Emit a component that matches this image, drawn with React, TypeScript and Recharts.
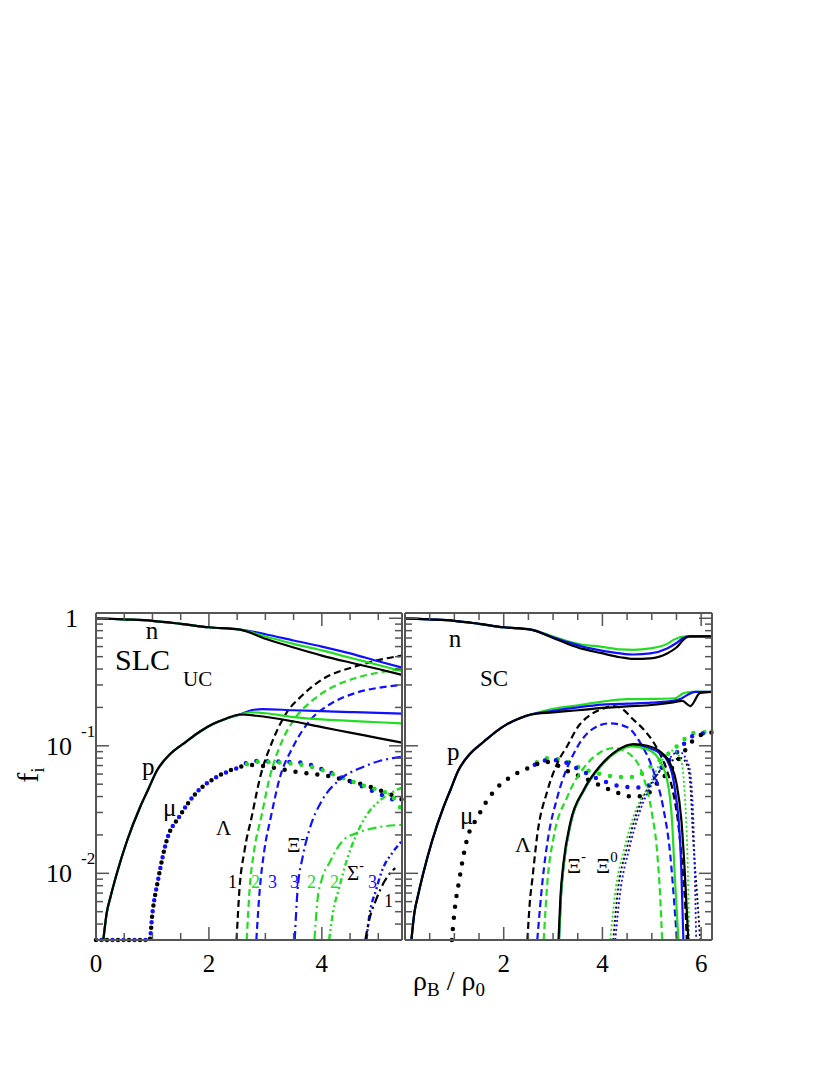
import { LineChart, Line, XAxis, YAxis } from 'recharts'

// --- data: [rho_B/rho_0, f_i] ---
const nCommon = [[0, 1.0], [0.5, 0.98], [1.0, 0.955], [1.5, 0.905], [2.0, 0.85], [2.55, 0.815]]
const nUcBlack = [[3.0, 0.69], [3.5, 0.59], [4.0, 0.51], [4.5, 0.45], [5.0, 0.4], [5.42, 0.36]]
const nUcGreen = [[3.0, 0.72], [3.5, 0.63], [4.0, 0.56], [4.5, 0.49], [5.0, 0.43], [5.42, 0.385]]
const nUcBlue = [[3.0, 0.75], [3.5, 0.67], [4.0, 0.6], [4.5, 0.53], [5.0, 0.46], [5.42, 0.41]]

const pCommon = [
  [0.13, 0.003], [0.19, 0.0049], [0.26, 0.0066], [0.37, 0.01], [0.55, 0.018], [0.78, 0.033],
  [0.92, 0.045], [1.08, 0.064], [1.3, 0.085], [1.6, 0.108], [1.85, 0.13], [2.07, 0.148],
  [2.3, 0.163], [2.55, 0.176],
]
const pUcBlack = [[2.84, 0.172], [3.5, 0.155], [4.0, 0.14], [4.5, 0.127], [5.0, 0.115], [5.42, 0.106]]
const pUcGreen = [[2.75, 0.183], [3.0, 0.18], [3.5, 0.168], [4.0, 0.161], [4.5, 0.157], [5.0, 0.153], [5.42, 0.15]]
const pUcBlue = [[2.75, 0.19], [2.95, 0.194], [3.5, 0.19], [4.0, 0.187], [4.5, 0.184], [5.0, 0.181], [5.42, 0.179]]

// muons sit on the floor of the plot below threshold (drawn only in the UC panel)
const muFloor = [[0, 0.003]]
const muRise = [
  [0.95, 0.003], [1.0, 0.0049], [1.1, 0.0089], [1.25, 0.018], [1.48, 0.028],
  [1.78, 0.043], [2.14, 0.057], [2.54, 0.068],
]
const muUcBlack = [[2.69, 0.071], [3.1, 0.068], [3.48, 0.063], [4.1, 0.058], [4.49, 0.053], [4.9, 0.047], [5.25, 0.041], [5.42, 0.038]]
const muUcBlue = [[2.76, 0.076], [3.29, 0.075], [3.6, 0.074], [4.1, 0.063], [4.49, 0.053], [5.07, 0.041], [5.25, 0.038], [5.42, 0.036]]
const muUcGreen = [[2.54, 0.068], [2.9, 0.075], [3.4, 0.073], [3.9, 0.067], [4.27, 0.058], [4.79, 0.048], [5.0, 0.045], [5.25, 0.04], [5.42, 0.031]]

const lamUcBlack = [[2.49, 0.003], [2.54, 0.0074], [2.63, 0.015], [2.76, 0.028], [2.9, 0.055], [3.13, 0.11], [3.37, 0.18], [3.66, 0.25], [4.0, 0.33], [4.6, 0.42], [5.0, 0.47], [5.42, 0.51]]
const lamUcGreen = [[2.67, 0.003], [2.72, 0.0074], [2.8, 0.015], [2.93, 0.028], [3.07, 0.055], [3.3, 0.11], [3.55, 0.17], [3.85, 0.23], [4.2, 0.29], [4.6, 0.34], [5.0, 0.375], [5.42, 0.4]]
const lamUcBlue = [[2.84, 0.003], [2.9, 0.0074], [2.98, 0.015], [3.1, 0.028], [3.25, 0.055], [3.5, 0.1], [3.8, 0.16], [4.13, 0.21], [4.6, 0.26], [5.0, 0.285], [5.42, 0.3]]

const xiUcBlue = [[3.52, 0.003], [3.57, 0.0074], [3.66, 0.0134], [3.78, 0.022], [4.0, 0.037], [4.31, 0.054], [4.72, 0.068], [5.02, 0.076], [5.42, 0.082]]
const xiUcGreen = [[3.87, 0.003], [3.92, 0.006], [4.0, 0.009], [4.13, 0.012], [4.37, 0.018], [4.66, 0.021], [5.0, 0.023], [5.42, 0.024]]
const sigUcGreen = [[4.13, 0.003], [4.2, 0.005], [4.3, 0.0075], [4.45, 0.013], [4.61, 0.02], [4.78, 0.028], [5.02, 0.037], [5.28, 0.044], [5.42, 0.047]]
const sigUcBlue = [[4.79, 0.003], [4.84, 0.0046], [4.96, 0.0074], [5.07, 0.0106], [5.25, 0.0145], [5.42, 0.018]]
const sigUcBlack = [[4.77, 0.003], [4.85, 0.0045], [4.96, 0.0062], [5.1, 0.0085], [5.25, 0.0105], [5.3, 0.011]]

const nScBlack = [[3.0, 0.7], [3.3, 0.63], [3.6, 0.575], [3.96, 0.535], [4.36, 0.495], [4.63, 0.48], [4.97, 0.485], [5.31, 0.53], [5.5, 0.59], [5.68, 0.7], [5.78, 0.72], [6.22, 0.72]]
const nScBlue = [[3.0, 0.71], [3.3, 0.65], [3.6, 0.6], [3.96, 0.56], [4.36, 0.53], [4.63, 0.52], [4.97, 0.53], [5.31, 0.58], [5.5, 0.64], [5.64, 0.7], [5.74, 0.72], [6.22, 0.72]]
const nScGreen = [[3.0, 0.72], [3.3, 0.66], [3.6, 0.62], [3.96, 0.6], [4.36, 0.57], [4.63, 0.565], [4.97, 0.58], [5.31, 0.63], [5.45, 0.68], [5.6, 0.715], [5.72, 0.72], [6.22, 0.72]]

const pScBlack = [[3.0, 0.183], [3.5, 0.19], [4.0, 0.198], [4.5, 0.204], [5.0, 0.209], [5.4, 0.218], [5.62, 0.225], [5.78, 0.205], [5.98, 0.26], [6.22, 0.265]]
const pScBlue = [[3.0, 0.188], [3.5, 0.2], [4.0, 0.21], [4.5, 0.214], [5.0, 0.218], [5.45, 0.226], [5.6, 0.235], [5.72, 0.25], [5.88, 0.265], [6.22, 0.265]]
const pScGreen = [[3.0, 0.195], [3.5, 0.208], [4.0, 0.222], [4.5, 0.232], [5.0, 0.233], [5.47, 0.236], [5.64, 0.258], [5.82, 0.265], [6.22, 0.265]]

const muScBlack = [[2.85, 0.075], [3.09, 0.07], [3.31, 0.063], [3.72, 0.054], [4.16, 0.045], [4.63, 0.04], [4.87, 0.041], [5.11, 0.051], [5.37, 0.064], [5.58, 0.082], [5.88, 0.114], [6.12, 0.126], [6.22, 0.127]]
const muScBlue = [[2.54, 0.068], [2.9, 0.077], [3.09, 0.077], [3.5, 0.066], [3.96, 0.054], [4.4, 0.048], [4.87, 0.047], [5.11, 0.062], [5.5, 0.088], [5.84, 0.12], [6.22, 0.127]]
const muScGreen = [[2.54, 0.068], [2.89, 0.08], [3.29, 0.075], [3.52, 0.068], [3.96, 0.06], [4.42, 0.057], [4.67, 0.057], [4.91, 0.066], [5.37, 0.089], [5.58, 0.105], [5.82, 0.126], [6.22, 0.128]]

const lamScBlack = [[2.48, 0.003], [2.53, 0.006], [2.58, 0.009], [2.68, 0.02], [2.89, 0.045], [3.1, 0.075], [3.29, 0.1], [3.5, 0.14], [3.76, 0.175], [4.0, 0.195], [4.22, 0.205], [4.4, 0.195], [4.63, 0.16], [4.83, 0.135], [5.11, 0.095], [5.3, 0.065], [5.45, 0.04], [5.55, 0.022], [5.63, 0.01], [5.68, 0.0055], [5.71, 0.003]]
const lamScBlue = [[2.68, 0.003], [2.79, 0.009], [2.89, 0.018], [3.09, 0.04], [3.42, 0.087], [3.82, 0.137], [4.16, 0.15], [4.5, 0.14], [4.77, 0.105], [5.03, 0.064], [5.23, 0.033], [5.37, 0.0145], [5.47, 0.0049], [5.51, 0.003]]
const lamScGreen = [[2.81, 0.003], [2.89, 0.009], [3.01, 0.019], [3.29, 0.04], [3.62, 0.067], [3.96, 0.089], [4.22, 0.096], [4.57, 0.085], [4.83, 0.057], [5.0, 0.03], [5.11, 0.0145], [5.17, 0.0066], [5.21, 0.003]]

const xiScBlack = [[3.11, 0.003], [3.15, 0.0066], [3.21, 0.012], [3.35, 0.025], [3.62, 0.045], [3.96, 0.07], [4.3, 0.092], [4.63, 0.103], [4.91, 0.1], [5.17, 0.09], [5.37, 0.073], [5.5, 0.051], [5.6, 0.026], [5.67, 0.01], [5.74, 0.003]]
const xiScBlue = [[3.12, 0.003], [3.16, 0.0066], [3.22, 0.012], [3.36, 0.025], [3.63, 0.045], [3.97, 0.07], [4.3, 0.091], [4.62, 0.101], [4.9, 0.097], [5.15, 0.088], [5.31, 0.077], [5.47, 0.045], [5.58, 0.016], [5.64, 0.003]]
const xiScGreen = [[3.12, 0.003], [3.16, 0.0066], [3.22, 0.012], [3.36, 0.025], [3.63, 0.045], [3.97, 0.069], [4.3, 0.09], [4.6, 0.099], [4.9, 0.094], [5.11, 0.082], [5.31, 0.054], [5.41, 0.026], [5.47, 0.0089], [5.54, 0.003]]

const xi0ScBlack = [[4.22, 0.003], [4.3, 0.0066], [4.5, 0.016], [4.7, 0.03], [5.03, 0.054], [5.37, 0.075], [5.6, 0.08], [5.72, 0.07], [5.78, 0.05], [5.84, 0.018], [5.92, 0.0066], [5.98, 0.003]]
const xi0ScBlue = [[4.26, 0.003], [4.35, 0.0066], [4.55, 0.016], [4.75, 0.03], [5.05, 0.054], [5.3, 0.075], [5.55, 0.09], [5.75, 0.07], [5.82, 0.04], [5.86, 0.015], [5.9, 0.003]]
const xi0ScGreen = [[4.16, 0.003], [4.25, 0.0066], [4.45, 0.016], [4.63, 0.028], [4.97, 0.051], [5.17, 0.073], [5.44, 0.092], [5.6, 0.075], [5.67, 0.04], [5.72, 0.015], [5.76, 0.003]]

const xTicksUc = [0, 0.5, 1, 1.5, 2, 2.5, 3, 3.5, 4, 4.5, 5]
const xTicksSc = [0, 0.5, 1, 1.5, 2, 2.5, 3, 3.5, 4, 4.5, 5, 5.5, 6]
const xLabelsUc = [0, 2, 4]
const xLabelsSc = [2, 4, 6]
const yTicks = [
  0.003, 0.004, 0.005, 0.006, 0.007, 0.008, 0.009, 0.01,
  0.02, 0.03, 0.04, 0.05, 0.06, 0.07, 0.08, 0.09, 0.1,
  0.2, 0.3, 0.4, 0.5, 0.6, 0.7, 0.8, 0.9, 1,
]
const yMajor = [1, 0.1, 0.01]
const yMajorExp = ['', '-1', '-2']

const BLACK = '#000000'
const GREEN = '#22dd22'
const BLUE = '#1010ff'
const FRAME = '#555555'
const FONT = '"Liberation Serif", "Times New Roman", serif'

const toPts = (pairs: number[][]) => pairs.map(([x, y]) => ({ x, y }))

type Style = 'solid' | 'dash' | 'mu' | 'dot' | 'dashdot' | 'dashdotdot'
interface Series { data: number[][]; color: string; style: Style; offset?: number }

const styleProps: Record<Style, any> = {
  solid: { strokeWidth: 2.2 },
  dash: { strokeWidth: 2.2, strokeDasharray: '7 4' },
  mu: { strokeWidth: 4.5, strokeDasharray: '0 11', strokeLinecap: 'round' },
  dot: { strokeWidth: 1.8, strokeDasharray: '2 2.5' },
  dashdot: { strokeWidth: 2.2, strokeDasharray: '9 4 2 4' },
  dashdotdot: { strokeWidth: 2.4, strokeDasharray: '6 3 2 3 2 3' },
}

const ucSeries: Series[] = [
  { data: [...muFloor, ...muRise, ...muUcBlack], color: BLACK, style: 'mu', offset: 0 },
  { data: [...muFloor, ...muRise, ...muUcBlue], color: BLUE, style: 'mu', offset: 5.5 },
  { data: muUcGreen, color: GREEN, style: 'mu', offset: 3 },
  { data: lamUcBlack, color: BLACK, style: 'dash' },
  { data: lamUcGreen, color: GREEN, style: 'dash' },
  { data: lamUcBlue, color: BLUE, style: 'dash' },
  { data: xiUcBlue, color: BLUE, style: 'dashdot' },
  { data: xiUcGreen, color: GREEN, style: 'dashdot' },
  { data: sigUcGreen, color: GREEN, style: 'dashdotdot' },
  { data: sigUcBlue, color: BLUE, style: 'dashdotdot' },
  { data: sigUcBlack, color: BLACK, style: 'dashdot' },
  { data: [...nCommon, ...nUcBlue], color: BLUE, style: 'solid' },
  { data: [...nCommon, ...nUcGreen], color: GREEN, style: 'solid' },
  { data: [...nCommon, ...nUcBlack], color: BLACK, style: 'solid' },
  { data: [...pCommon, ...pUcBlue], color: BLUE, style: 'solid' },
  { data: [...pCommon, ...pUcGreen], color: GREEN, style: 'solid' },
  { data: [...pCommon, ...pUcBlack], color: BLACK, style: 'solid' },
]

const scSeries: Series[] = [
  { data: muScGreen, color: GREEN, style: 'mu', offset: 3 },
  { data: muScBlue, color: BLUE, style: 'mu', offset: 6 },
  { data: [...muRise, ...muScBlack], color: BLACK, style: 'mu', offset: 0 },
  { data: lamScBlack, color: BLACK, style: 'dash' },
  { data: lamScBlue, color: BLUE, style: 'dash' },
  { data: lamScGreen, color: GREEN, style: 'dash' },
  { data: xi0ScBlack, color: BLACK, style: 'dot' },
  { data: xi0ScBlue, color: BLUE, style: 'dot' },
  { data: xi0ScGreen, color: GREEN, style: 'dot' },
  { data: xiScBlue, color: BLUE, style: 'solid' },
  { data: xiScGreen, color: GREEN, style: 'solid' },
  { data: xiScBlack, color: BLACK, style: 'solid' },
  { data: [...nCommon, ...nScGreen], color: GREEN, style: 'solid' },
  { data: [...nCommon, ...nScBlue], color: BLUE, style: 'solid' },
  { data: [...nCommon, ...nScBlack], color: BLACK, style: 'solid' },
  { data: [...pCommon, ...pScGreen], color: GREEN, style: 'solid' },
  { data: [...pCommon, ...pScBlue], color: BLUE, style: 'solid' },
  { data: [...pCommon, ...pScBlack], color: BLACK, style: 'solid' },
]

const isMajorX = (v: number) => Math.abs(v - Math.round(v / 2) * 2) < 1e-9
const majorIndex = (v: number) => yMajor.findIndex((m) => Math.abs(m - v) < 1e-9)

function makeXTick(side: 'bottom' | 'top', labels: number[]) {
  return (props: any) => {
    const { x, y, payload } = props
    const major = isMajorX(payload.value)
    const len = major ? 13 : 7
    const dir = side === 'bottom' ? -1 : 1
    return (
      <g>
        <line x1={x} x2={x} y1={y} y2={y + dir * len} stroke={FRAME} strokeWidth={1.5} />
        {side === 'bottom' && labels.includes(payload.value) && (
          <text x={x} y={y + 32} textAnchor="middle" fontSize={25} fontFamily={FONT} fill="#000">
            {payload.value}
          </text>
        )}
      </g>
    )
  }
}

function makeYTick(side: 'left' | 'right', showLabels: boolean) {
  return (props: any) => {
    const { x, y, payload } = props
    const mi = majorIndex(payload.value)
    const len = mi >= 0 ? 13 : 7
    const dir = side === 'left' ? 1 : -1
    return (
      <g>
        <line x1={x} x2={x + dir * len} y1={y} y2={y} stroke={FRAME} strokeWidth={1.5} />
        {showLabels && side === 'left' && mi === 0 && (
          <text x={x - 18} y={y + 9} textAnchor="end" fontSize={26} fontFamily={FONT} fill="#000">1</text>
        )}
        {showLabels && side === 'left' && mi > 0 && (
          <g>
            <text x={x - 24} y={y + 9} textAnchor="end" fontSize={26} fontFamily={FONT} fill="#000">10</text>
            <text x={x - 15} y={y - 9} textAnchor="start" fontSize={17} fontFamily={FONT} fill="#000">
              {yMajorExp[mi]}
            </text>
          </g>
        )}
      </g>
    )
  }
}

interface PanelProps {
  series: Series[]
  xMax: number
  xTicks: number[]
  xLabels: number[]
  width: number
  margin: { top: number; left: number; right: number; bottom: number }
  yLabels: boolean
}

function Panel({ series, xMax, xTicks, xLabels, width, margin, yLabels }: PanelProps) {
  const axisLine = { stroke: FRAME, strokeWidth: 2 }
  return (
    <LineChart width={width} height={1075} margin={margin}>
      <XAxis xAxisId="b" type="number" dataKey="x" domain={[0, xMax]} ticks={xTicks}
        interval={0} height={1} tickSize={0} tickMargin={0} tickLine={false} axisLine={axisLine}
        tick={makeXTick('bottom', xLabels)} />
      <XAxis xAxisId="t" orientation="top" type="number" dataKey="x" domain={[0, xMax]}
        ticks={xTicks} interval={0} height={1} tickSize={0} tickMargin={0} tickLine={false} axisLine={axisLine}
        tick={makeXTick('top', [])} />
      <YAxis yAxisId="l" type="number" scale="log" domain={[0.003, 1.1]} ticks={yTicks}
        interval={0} width={1} tickSize={0} tickMargin={0} tickLine={false} axisLine={axisLine}
        tick={makeYTick('left', yLabels)} />
      <YAxis yAxisId="r" orientation="right" type="number" scale="log" domain={[0.003, 1.1]}
        ticks={yTicks} interval={0} width={1} tickSize={0} tickMargin={0} tickLine={false} axisLine={axisLine}
        tick={makeYTick('right', false)} />
      {series.map((s, i) => (
        <Line
          key={i}
          xAxisId="b"
          yAxisId="l"
          data={toPts(s.data)}
          dataKey="y"
          type="monotone"
          stroke={s.color}
          {...styleProps[s.style]}
          strokeDashoffset={s.offset ?? 0}
          dot={false}
          activeDot={false}
          isAnimationActive={false}
        />
      ))}
      <Line xAxisId="t" yAxisId="r" data={toPts(nCommon)} dataKey="y" stroke="none" dot={false}
        activeDot={false} isAnimationActive={false} />
    </LineChart>
  )
}

const T = (props: any) => <text fontFamily={FONT} fill="#000" {...props} />

function Annotations() {
  return (
    <svg width={830} height={1075} style={{ position: 'absolute', left: 0, top: 0, pointerEvents: 'none' }}>
      {/* left panel */}
      <T x={152} y={639} fontSize={25} textAnchor="middle">n</T>
      <T x={115} y={670} fontSize={30}>SLC</T>
      <T x={183} y={686} fontSize={21}>UC</T>
      <T x={142} y={775} fontSize={25}>p</T>
      <T x={163} y={816} fontSize={25}>μ</T>
      <T x={216} y={835} fontSize={21}>Λ</T>
      <T x={287} y={852} fontSize={21}>Ξ<tspan dy={-9} fontSize={14}>-</tspan></T>
      <T x={347} y={880} fontSize={21}>Σ<tspan dy={-10} fontSize={14}>-</tspan></T>
      <T x={228} y={888} fontSize={18}>1</T>
      <T x={251} y={888} fontSize={18} fill={GREEN}>2</T>
      <T x={268} y={888} fontSize={18} fill={BLUE}>3</T>
      <T x={290} y={888} fontSize={18} fill={BLUE}>3</T>
      <T x={307} y={888} fontSize={18} fill={GREEN}>2</T>
      <T x={330} y={888} fontSize={18} fill={GREEN}>2</T>
      <T x={368} y={888} fontSize={18} fill={BLUE}>3</T>
      <T x={384} y={907} fontSize={18}>1</T>
      {/* right panel */}
      <T x={455} y={647} fontSize={25} textAnchor="middle">n</T>
      <T x={480} y={686} fontSize={23}>SC</T>
      <T x={447} y={760} fontSize={25}>p</T>
      <T x={460} y={824} fontSize={25}>μ</T>
      <T x={515} y={852} fontSize={22}>Λ</T>
      <T x={567} y={873} fontSize={22}>Ξ<tspan dy={-12} fontSize={14}>-</tspan></T>
      <T x={596} y={873} fontSize={22}>Ξ<tspan dy={-11} fontSize={15}>0</tspan></T>
      {/* axis titles */}
      <T x={38} y={775} fontSize={30} textAnchor="middle" transform="rotate(-90 38 775)">
        f<tspan dy={6} fontSize={19}>i</tspan>
      </T>
      <T x={413} y={990} fontSize={28}>
        ρ<tspan dy={6} fontSize={19}>B</tspan><tspan dy={-6}> / ρ</tspan><tspan dy={6} fontSize={19}>0</tspan>
      </T>
    </svg>
  )
}

export default function App() {
  return (
    <div style={{ position: 'absolute', left: 0, top: 0, width: 830, height: 1075, background: '#fff' }}>
      <div style={{ position: 'absolute', left: 0, top: 0 }}>
        <Panel series={ucSeries} xMax={5.42} xTicks={xTicksUc} xLabels={xLabelsUc} width={420}
          margin={{ top: 612, left: 95, right: 17, bottom: 134 }} yLabels />
      </div>
      <div style={{ position: 'absolute', left: 400, top: 0 }}>
        <Panel series={scSeries} xMax={6.22} xTicks={xTicksSc} xLabels={xLabelsSc} width={330}
          margin={{ top: 612, left: 4, right: 17, bottom: 134 }} yLabels={false} />
      </div>
      <Annotations />
    </div>
  )
}
